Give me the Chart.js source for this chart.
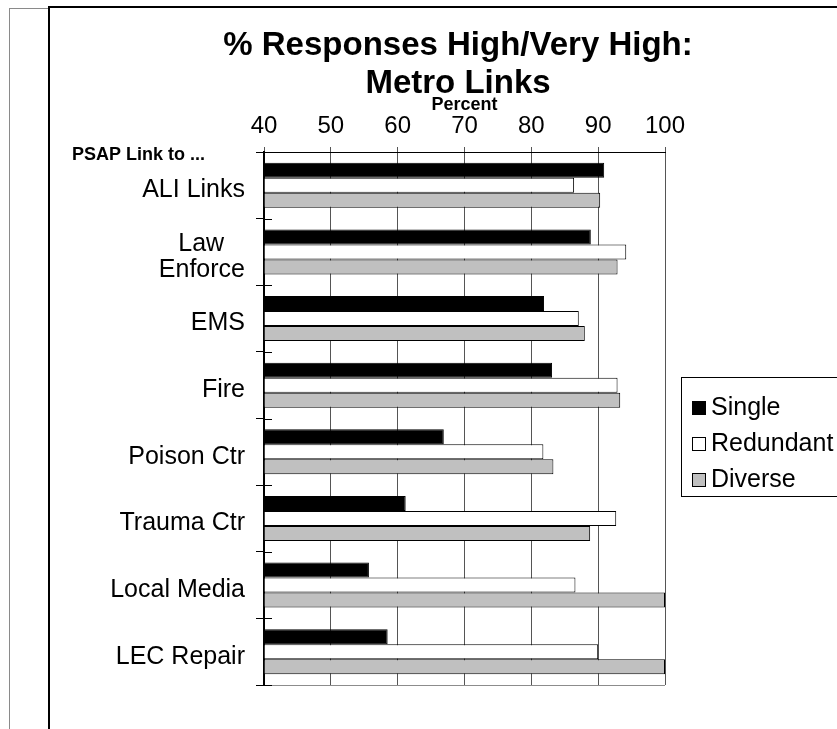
<!DOCTYPE html>
<html>
<head>
<meta charset="utf-8">
<title>% Responses High/Very High: Metro Links</title>
<script src="https://cdn.jsdelivr.net/npm/chart.js@4/dist/chart.umd.min.js"></script>
<style>
  html, body { margin: 0; padding: 0; background: #fff; overflow: hidden; }
  #wrap { position: relative; width: 837px; height: 729px; }
  #chart { position: absolute; left: 0; top: 0; }
  .rule { position: absolute; }
  #outerV { left: 9px; top: 8px; width: 1px; height: 721px; background: #8a8a8a; }
  #outerH { left: 9px; top: 8px; width: 39px; height: 1px; background: #8a8a8a; }
  #innerV { left: 48px; top: 6px; width: 2px; height: 723px; background: #000; }
  #innerH { left: 48px; top: 6px; width: 789px; height: 2px; background: #000; }
</style>
</head>
<body>
<div id="wrap">
  <canvas id="chart" width="837" height="729"></canvas>
  <div class="rule" id="outerV"></div>
  <div class="rule" id="outerH"></div>
  <div class="rule" id="innerV"></div>
  <div class="rule" id="innerH"></div>
</div>
<script>
// Categories (PSAP link destinations); "Law" is padded so it sits centred over "Enforce"
const categories = [
  'ALI Links',
  ['Law\u00A0\u00A0\u00A0', 'Enforce'],
  'EMS',
  'Fire',
  'Poison Ctr',
  'Trauma Ctr',
  'Local Media',
  'LEC Repair'
];

// Percent of responses rating the link High / Very High
const singleLinks    = [90.9, 88.9, 81.9, 83.1, 66.9, 61.2, 55.7, 58.5];
const redundantLinks = [86.4, 94.2, 87.1, 92.9, 81.8, 92.7, 86.6, 90.0];
const diverseLinks   = [90.3, 92.9, 88.0, 93.3, 83.3, 88.8, 100, 100];

const seriesNames = ['Single', 'Redundant', 'Diverse'];
const titleLines  = ['% Responses High/Very High:', 'Metro Links'];
const axisTitle   = 'Percent';
const rowHeader   = 'PSAP Link to ...';
const axisMin = 40, axisMax = 100, axisStep = 10;

Chart.defaults.font.family = '"Liberation Sans", Arial, Helvetica, sans-serif';
Chart.defaults.color = '#000';

// Category tick crosses, bottom frame line, row header and boxed legend
const decorations = {
  id: 'decorations',
  afterDraw(chart) {
    const ctx = chart.ctx;
    const area = chart.chartArea;
    const yS = chart.scales.y;
    const n = chart.data.labels.length;
    const step = yS.getPixelForValue(1) - yS.getPixelForValue(0);

    ctx.save();
    // bottom edge of the plot
    ctx.strokeStyle = '#8c8c8c';
    ctx.lineWidth = 1;
    ctx.beginPath();
    ctx.moveTo(area.left, Math.round(area.bottom) + 0.5);
    ctx.lineTo(area.right, Math.round(area.bottom) + 0.5);
    ctx.stroke();

    // inner half of the category tick marks
    ctx.strokeStyle = '#000';
    ctx.beginPath();
    for (let i = 0; i <= n; i++) {
      const y = Math.round(yS.getPixelForValue(i) - step / 2) + 0.5;
      ctx.moveTo(area.left, y);
      ctx.lineTo(area.left + 8, y);
    }
    ctx.stroke();

    // row header above the category labels
    ctx.fillStyle = '#000';
    ctx.font = 'bold 18px "Liberation Sans", Arial, sans-serif';
    ctx.textAlign = 'left';
    ctx.textBaseline = 'alphabetic';
    ctx.fillText(rowHeader, 72, area.top + 8);

    // legend box (runs off the right edge of the page)
    const lx = area.right + 16;
    const ly = area.top + 225;
    const lh = 119;
    ctx.strokeStyle = '#000';
    ctx.lineWidth = 1;
    ctx.strokeRect(lx + 0.5, ly + 0.5, 400, lh);
    ctx.font = '25px "Liberation Sans", Arial, sans-serif';
    ctx.textBaseline = 'middle';
    chart.data.datasets.forEach((ds, i) => {
      const cy = ly + 31 + i * 36;
      ctx.fillStyle = ds.backgroundColor;
      ctx.fillRect(lx + 11.5, cy - 6.5, 13, 13);
      ctx.strokeStyle = '#000';
      ctx.strokeRect(lx + 11.5, cy - 6.5, 13, 13);
      ctx.fillStyle = '#000';
      ctx.fillText(ds.label, lx + 30, cy);
    });
    ctx.restore();
  }
};

const makeSet = (label, data, fill) => ({
  label,
  data,
  base: axisMin,
  backgroundColor: fill,
  borderColor: '#000',
  borderWidth: 1,
  categoryPercentage: 0.675,
  barPercentage: 1.0
});

new Chart(document.getElementById('chart'), {
  type: 'bar',
  data: {
    labels: categories,
    datasets: [
      makeSet(seriesNames[0], singleLinks, '#000000'),
      makeSet(seriesNames[1], redundantLinks, '#ffffff'),
      makeSet(seriesNames[2], diverseLinks, '#c0c0c0')
    ]
  },
  options: {
    indexAxis: 'y',
    responsive: false,
    animation: false,
    devicePixelRatio: 1,
    layout: { padding: { left: 80, right: 1, top: 0, bottom: 44 } },
    plugins: {
      legend: { display: false },
      tooltip: { enabled: false },
      title: {
        display: true,
        text: titleLines,
        color: '#000',
        font: { size: 33, weight: 'bold', lineHeight: '38px' },
        padding: { top: 27, bottom: -9 }
      }
    },
    scales: {
      x: {
        position: 'top',
        min: axisMin,
        max: axisMax,
        ticks: {
          stepSize: axisStep,
          color: '#000',
          font: { size: 24, lineHeight: 1 },
          padding: 9
        },
        grid: { color: '#555', lineWidth: 1, tickLength: 5, drawTicks: true },
        border: { color: '#000', width: 1 },
        title: {
          display: true,
          text: axisTitle,
          color: '#000',
          font: { size: 18, weight: 'bold', lineHeight: '18px' },
          padding: { top: 2, bottom: 0 }
        },
        afterFit(scale) { scale.height = 58; }
      },
      y: {
        grid: {
          offset: true,
          drawOnChartArea: false,
          drawTicks: true,
          tickLength: 8,
          color: '#000'
        },
        border: { color: '#000', width: 2 },
        ticks: {
          color: '#000',
          autoSkip: false,
          font: { size: 25, lineHeight: 1.05 },
          padding: 11,
          labelOffset: 5
        },
        afterFit(scale) { scale.width = 184; }
      },
      // empty right-hand axis that keeps room for the legend
      yRight: {
        type: 'category',
        position: 'right',
        grid: { display: false },
        border: { display: false },
        ticks: { display: false },
        afterFit(scale) { scale.width = 171; }
      }
    }
  },
  plugins: [decorations]
});
</script>
</body>
</html>
